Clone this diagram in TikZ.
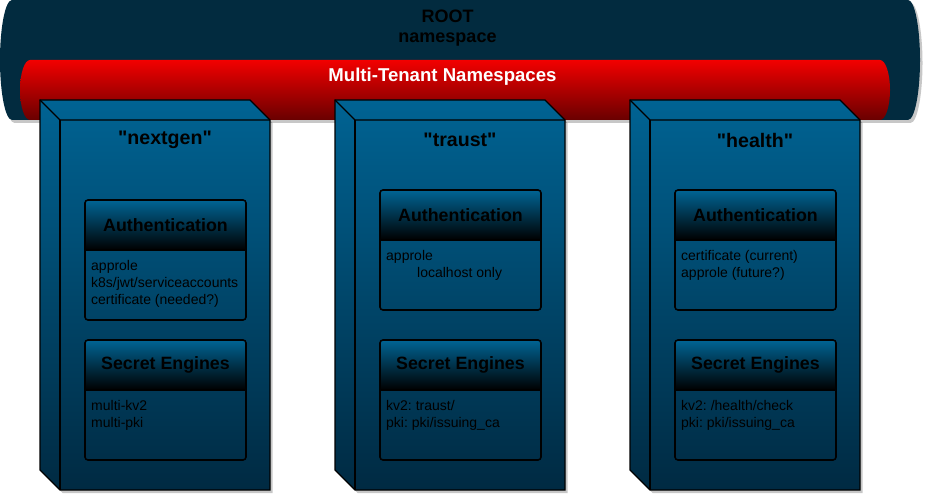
\documentclass[tikz,border=0pt]{standalone}
\usepackage{fontspec}
\setmainfont[Ligatures=TeXOff]{Liberation Sans}
\usetikzlibrary{shadows}
\frenchspacing
\definecolor{rootfill}{RGB}{2,43,63}
\definecolor{redtop}{RGB}{242,0,0}
\definecolor{redbot}{RGB}{105,0,0}
\definecolor{cubetop}{RGB}{0,99,147}
\definecolor{cubebot}{RGB}{0,42,66}
\definecolor{headtop}{RGB}{0,100,148}
\tikzset{
  shad/.style={drop shadow={shadow xshift=2.5pt,shadow yshift=-3pt,fill=black,opacity=0.22}},
  cubeline/.style={draw=black,line width=1.2pt,line join=miter},
  boxline/.style={draw=black,line width=1.6pt},
  bigtitle/.style={font=\fontsize{18}{21}\selectfont\bfseries,text=black,inner sep=0pt},
  redtitle/.style={font=\fontsize{18.6}{21}\selectfont\bfseries,text=white,inner sep=0pt},
  nstitle/.style={font=\fontsize{19.6}{23}\selectfont\bfseries,text=black,inner sep=0pt},
  headtext/.style={font=\fontsize{17.8}{21}\selectfont\bfseries,text=black,inner sep=0pt},
  bodytext/.style={font=\fontsize{14}{17}\selectfont,text=black,inner sep=0pt,align=left,anchor=north west}
}
% cube: #1 left x, #2 name, #3 title
\newcommand\mycube[3]{%
  \path[shad,top color=cubetop,bottom color=cubebot,cubeline]
    (#1,100) -- (#1+210,100) -- (#1+230,120) -- (#1+230,490) -- (#1+20,490) -- (#1,470) -- cycle;
  \draw[cubeline] (#1,100) -- (#1+20,120) -- (#1+230,120);
  \draw[cubeline] (#1+20,120) -- (#1+20,490);
  \node[nstitle] (#2) at (#1+125,140) {#3};
}
% box: #1 left x, #2 top y, #3 name, #4 header, #5 body
\newcommand\mybox[5]{%
  \path[top color=headtop,bottom color=black,rounded corners=3pt]
    (#1,#2+50) |- (#1+161,#2) -- (#1+161,#2+50) -- cycle;
  \draw[boxline,rounded corners=3pt] (#1,#2) rectangle (#1+161,#2+120);
  \draw[line width=2.2pt] (#1,#2+50) -- (#1+161,#2+50);
  \node[headtext] (#3h) at (#1+80.5,#2+25) {#4};
  \node[bodytext] (#3b) at (#1+6,#2+60) {#5};
}
\begin{document}
\begin{tikzpicture}[x=1pt,y=-1pt]
\useasboundingbox (0,0) rectangle (932,502);
% ROOT namespace cylinder
\path[shad,fill=rootfill]
  (12,0) -- (908,0) .. controls (914.6,0) and (920,26.9) .. (920,60)
  .. controls (920,93.1) and (914.6,120) .. (908,120) -- (12,120)
  .. controls (5.4,120) and (0,93.1) .. (0,60)
  .. controls (0,26.9) and (5.4,0) .. (12,0) -- cycle;
\node[bigtitle,align=center] (root) at (447.5,28) {ROOT\\[-0.5pt]namespace};
% Multi-tenant cylinder
\path[top color=redtop,bottom color=redbot]
  (30,60) -- (880,60) .. controls (885.5,60) and (890,73.4) .. (890,90)
  .. controls (890,106.6) and (885.5,120) .. (880,120) -- (30,120)
  .. controls (24.5,120) and (20,106.6) .. (20,90)
  .. controls (20,73.4) and (24.5,60) .. (30,60) -- cycle;
\node[redtitle] (mt) at (442.5,77) {Multi-Tenant Namespaces};
% namespaces
\mycube{40}{nextgen}{"nextgen"}
\mycube{335}{traust}{"traust"}
\mycube{630}{health}{"health"}
% boxes
\mybox{85}{200}{nga}{Authentication}{approle\\k8s/jwt/serviceaccounts\\certificate (needed?)}
\mybox{85}{340}{ngs}{Secret Engines}{multi-kv2\\multi-pki}
\mybox{380}{190}{tra}{Authentication}{approle\\\hspace*{31pt}localhost only}
\mybox{380}{340}{trs}{Secret Engines}{kv2: traust/\\pki: pki/issuing\_ca}
\mybox{675}{190}{hea}{Authentication}{certificate (current)\\approle (future?)}
\mybox{675}{340}{hes}{Secret Engines}{kv2: /health/check\\pki: pki/issuing\_ca}
\end{tikzpicture}
\end{document}
